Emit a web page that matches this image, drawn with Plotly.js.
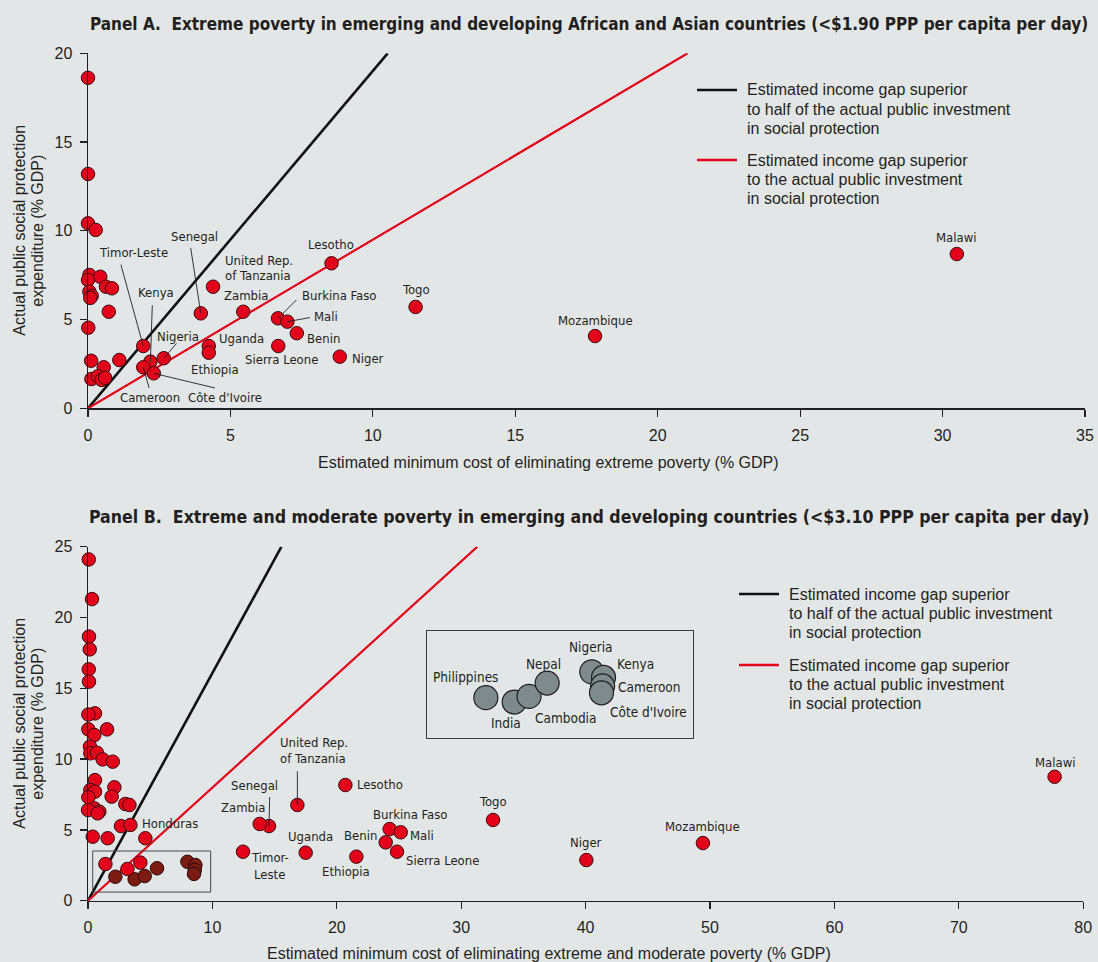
<!DOCTYPE html>
<html>
<head>
<meta charset="utf-8">
<script src="https://cdn.plot.ly/plotly-3.0.1.min.js"></script>
<style>
html,body{margin:0;padding:0;background:#e3e6e7;}
#chart{width:1098px;height:962px;}
</style>
</head>
<body>
<div id="chart"></div>
<script>
// ---------------- DATA ----------------
// Panel A: threshold lines
const lineA_half_x = [0, 10.52];
const lineA_half_y = [0, 20];
const lineA_full_x = [0, 21.05];
const lineA_full_y = [0, 20];

// Panel A: labelled countries
const aNames = ['Timor-Leste','Kenya','Nigeria','Cameroon',"Côte d'Ivoire",'Senegal','United Rep.<br>of Tanzania','Zambia','Uganda','Ethiopia','Lesotho','Burkina Faso','Mali','Benin','Sierra Leone','Niger','Togo','Mozambique','Malawi'];
const aX = [1.94, 2.19, 2.66, 1.94, 2.31, 3.96, 4.39, 5.45, 4.24, 4.24, 8.55, 6.67, 7.00, 7.33, 6.68, 8.84, 11.50, 17.80, 30.50];
const aY = [3.51, 2.63, 2.82, 2.31, 1.97, 5.35, 6.85, 5.44, 3.51, 3.13, 8.17, 5.07, 4.88, 4.23, 3.51, 2.91, 5.71, 4.07, 8.69];

// Panel A: unlabelled countries
const aOtherX = [0, 0, 0, 0.27, 0.05, 0.43, 0, 0.63, 0.84, 0.05, 0.13, 0.08, 0.73, 0.01, 0.11, 1.10, 0.55, 0.12, 0.35, 0.48, 0.60];
const aOtherY = [18.62, 13.20, 10.42, 10.05, 7.51, 7.41, 7.23, 6.85, 6.76, 6.57, 6.33, 6.22, 5.44, 4.54, 2.68, 2.72, 2.31, 1.65, 1.80, 1.60, 1.72];

// Panel B: threshold lines
const lineB_half_x = [0, 15.55];
const lineB_half_y = [0, 25];
const lineB_full_x = [0, 31.3];
const lineB_full_y = [0, 25];

// Panel B: labelled countries
const bNames = ['United Rep.<br>of Tanzania','Lesotho','Senegal','Zambia','Timor-<br>Leste','Uganda','Ethiopia','Burkina Faso','Benin','Mali','Sierra Leone','Togo','Niger','Mozambique','Malawi','Honduras'];
const bX = [16.83, 20.69, 14.55, 13.80, 12.46, 17.50, 21.57, 24.25, 23.93, 25.14, 24.84, 32.56, 40.06, 49.43, 77.70, 4.61];
const bY = [6.76, 8.17, 5.27, 5.42, 3.46, 3.39, 3.11, 5.06, 4.12, 4.83, 3.46, 5.70, 2.87, 4.07, 8.75, 4.41];

// Panel B: unlabelled countries
const bOtherX = [0.06, 0.32, 0.08, 0.14, 0.06, 0.08, 0.56, 0.03, 0.03, 1.53, 0.51, 0.16, 0.19, 0.72, 1.18, 1.99, 0.56, 0.19, 0.56, 2.12, 1.90, 0.03, 3.00, 3.33, 0.51, 0.91, 0.00, 0.78, 2.65, 3.41, 0.38, 1.58, 1.40, 3.17, 4.21];
const bOtherY = [24.10, 21.30, 18.65, 17.75, 16.34, 15.47, 13.23, 13.15, 12.10, 12.10, 11.70, 10.88, 10.41, 10.45, 9.98, 9.82, 8.52, 7.82, 7.70, 8.01, 7.35, 7.30, 6.83, 6.76, 6.52, 6.29, 6.40, 6.17, 5.27, 5.35, 4.52, 4.41, 2.59, 2.24, 2.69];

// Panel B: highlighted (zoomed) countries
const zNames = ['Philippines','India','Cambodia','Nepal','Nigeria','Kenya','Cameroon',"Côte d'Ivoire"];
const zX = [2.20, 3.75, 4.56, 5.55, 7.99, 8.63, 8.58, 8.52];
const zY = [1.69, 1.51, 1.74, 2.29, 2.75, 2.52, 2.17, 1.89];

// Texts
const titleA = 'Panel A.\u00a0 Extreme poverty in emerging and developing African and Asian countries (&lt;$1.90 PPP per capita per day)';
const titleB = 'Panel B.\u00a0 Extreme and moderate poverty in emerging and developing countries (&lt;$3.10 PPP per capita per day)';
const xTitleA = 'Estimated minimum cost of eliminating extreme poverty (% GDP)';
const xTitleB = 'Estimated minimum cost of eliminating extreme and moderate poverty (% GDP)';
const yTitleLines = ['Actual public social protection', 'expenditure (% GDP)'];
const legendHalf = ['Estimated income gap superior', 'to half of the actual public investment', 'in social protection'];
const legendFull = ['Estimated income gap superior', 'to the actual public investment', 'in social protection'];

// ---------------- STYLE / LAYOUT ----------------
const W = 1098, H = 962, ML = 88, MR = 13;
const PW = W - ML - MR;
const px2x = p => (p - ML) / PW;
const py2y = p => (H - p) / H;

const BG = '#e3e6e7';
const INK = '#231f20';
const RED = '#e3001b';
const DARKRED = '#7b1b12';
const GREY = '#7f8a8d';

const narrow = 'Liberation Sans Narrow, Arial Narrow, DejaVu Sans Condensed, sans-serif';
const regular = 'Liberation Sans, Arial, Helvetica, sans-serif';
const labelFont = {family: narrow, size: 13, color: INK};
const insetFont = {family: narrow, size: 13.5, color: INK};
const textFont = {family: regular, size: 16, color: INK};
const titleFontA = {family: narrow, size: 17, color: INK, weight: 700};
const titleFontB = {family: narrow, size: 17.6, color: INK, weight: 700};

const markerRed = {size: 13.5, color: RED, line: {color: '#3a1010', width: 1}};
const markerDark = {size: 13.5, color: DARKRED, line: {color: '#2a0a06', width: 1}};
const markerGrey = {size: 24, color: GREY, line: {color: '#1e1e1e', width: 1.2}};

function pts(x, y, xa, ya, marker) {
  return {type: 'scatter', mode: 'markers', x: x, y: y, xaxis: xa, yaxis: ya,
          marker: marker, cliponaxis: false, hoverinfo: 'skip', showlegend: false};
}
function ln(x, y, xa, ya, color, width) {
  return {type: 'scatter', mode: 'lines', x: x, y: y, xaxis: xa, yaxis: ya,
          line: {color: color, width: width}, cliponaxis: false, hoverinfo: 'skip', showlegend: false};
}

const traces = [
  ln(lineA_half_x, lineA_half_y, 'x', 'y', '#111', 2.6),
  ln(lineA_full_x, lineA_full_y, 'x', 'y', RED, 2.2),
  pts(aOtherX, aOtherY, 'x', 'y', markerRed),
  pts(aX, aY, 'x', 'y', markerRed),
  ln(lineB_half_x, lineB_half_y, 'x2', 'y2', '#111', 2.6),
  ln(lineB_full_x, lineB_full_y, 'x2', 'y2', RED, 2.2),
  pts(zX, zY, 'x2', 'y2', markerDark),
  pts(bOtherX, bOtherY, 'x2', 'y2', markerRed),
  pts(bX, bY, 'x2', 'y2', markerRed),
  pts(zX, zY, 'x3', 'y3', markerGrey)
];

// label placement (pixels relative to point): [dx, dy, anchor, leaderDx, leaderDy]
const aPos = {
  'Timor-Leste': [-10, -93.5, 'center', -22.9, -83.3],
  'Kenya': [5.3, -69, 'center', 2, -58.3],
  'Nigeria': [14.4, -22.2, 'center', 14.2, -16.5],
  'Cameroon': [7, 30.2, 'center', 6.4, 22.7],
  "Côte d'Ivoire": [71, 24.2, 'center', 62.6, 15],
  'Senegal': [-6.6, -77.3, 'center', -10.4, -67.3],
  'United Rep.<br>of Tanzania': [9.7, -18.7, 'left'],
  'Zambia': [2.5, -16.7, 'center'],
  'Uganda': [32.6, -8, 'center'],
  'Ethiopia': [6.4, 16.3, 'center'],
  'Lesotho': [-0.8, -18.3, 'center'],
  'Burkina Faso': [61.7, -23.3, 'center', 20, -20],
  'Mali': [38.3, -5.2, 'center', 24, -4.4],
  'Benin': [26.2, 4.8, 'center'],
  'Sierra Leone': [2.8, 13.7, 'center'],
  'Niger': [27.9, 1.4, 'center'],
  'Togo': [0, -17, 'center'],
  'Mozambique': [0.5, -16, 'center'],
  'Malawi': [-0.5, -17, 'center']
};
const bPos = {
  'United Rep.<br>of Tanzania': [-19.4, -54.2, 'left', 0, -35.7],
  'Lesotho': [35.1, -1, 'center'],
  'Senegal': [-14.3, -40.6, 'center', 0.7, -31.1],
  'Zambia': [-16.7, -16.5, 'center'],
  'Timor-<br>Leste': [26.7, 14.3, 'center'],
  'Uganda': [4.8, -16, 'center'],
  'Ethiopia': [-10.3, 15, 'center'],
  'Burkina Faso': [20.5, -14.6, 'center'],
  'Benin': [-25.2, -6.9, 'center'],
  'Mali': [21.5, 3.2, 'center'],
  'Sierra Leone': [45.2, 8.3, 'center'],
  'Togo': [0, -18.3, 'center'],
  'Niger': [0, -17.4, 'center'],
  'Mozambique': [0, -16.1, 'center'],
  'Malawi': [1, -14.8, 'center'],
  'Honduras': [24.4, -14.8, 'center']
};
const zPos = {
  'Philippines': [-20.5, -21],
  'India': [-8.4, 21.3],
  'Cambodia': [36.5, 21.9],
  'Nepal': [-3.9, -19],
  'Nigeria': [-1.3, -24.8],
  'Kenya': [31.5, -13.1],
  'Cameroon': [46.2, 1],
  "Côte d'Ivoire": [47.3, 18.9]
};

const annotations = [];
function addText(xref, yref, x, y, text, dx, dy, font, anchor, lh, angle) {
  const lines = text.split('<br>');
  const n = lines.length;
  lines.forEach((t, i) => {
    const off = dy + (i - (n - 1) / 2) * lh;
    const a = {xref: xref, yref: yref, x: x, y: y, text: t, showarrow: false,
      xanchor: anchor || 'center', yanchor: 'middle', xshift: dx, yshift: -off, font: font};
    if (angle !== undefined) a.textangle = angle;
    annotations.push(a);
  });
}
function addLeader(xref, yref, x, y, ldx, ldy) {
  annotations.push({xref: xref, yref: yref, x: x, y: y, text: ' ', font: {size: 1},
    showarrow: true, ax: ldx, ay: ldy, axref: 'pixel', ayref: 'pixel',
    arrowhead: 0, arrowwidth: 0.9, arrowcolor: INK, standoff: 0});
}
function labelSet(names, xs, ys, pos, xref, yref, font, lh) {
  names.forEach((nm, i) => {
    const p = pos[nm];
    if (!p) return;
    if (p.length > 3) addLeader(xref, yref, xs[i], ys[i], p[3], p[4]);
    addText(xref, yref, xs[i], ys[i], nm, p[0], p[1], font, p[2] || 'center', lh);
  });
}
labelSet(aNames, aX, aY, aPos, 'x', 'y', labelFont, 15);
labelSet(bNames, bX, bY, bPos, 'x2', 'y2', labelFont, 16.2);
labelSet(zNames, zX, zY, zPos, 'x3', 'y3', insetFont, 17);

// panel titles
addText('paper', 'paper', px2x(589), py2y(24), titleA, 0, 0, titleFontA, 'center', 20);
addText('paper', 'paper', px2x(589), py2y(517), titleB, 0, 0, titleFontB, 'center', 20);
// axis titles
addText('paper', 'paper', px2x(548.5), py2y(462), xTitleA, 0, 0, textFont, 'center', 19);
addText('paper', 'paper', px2x(548.5), py2y(953), xTitleB, 0, 0, textFont, 'center', 19);
[[230.7], [723.7]].forEach(c => {
  addText('paper', 'paper', px2x(20), py2y(c[0]), yTitleLines[0], 0, 0, textFont, 'center', 18, -90);
  addText('paper', 'paper', px2x(38), py2y(c[0]), yTitleLines[1], 0, 0, textFont, 'center', 18, -90);
});

// legends (key line + text)
const shapes = [];
function legendItem(x0, x1, yLine, xText, color, lines) {
  shapes.push({type: 'line', xref: 'paper', yref: 'paper', x0: px2x(x0), x1: px2x(x1),
    y0: py2y(yLine), y1: py2y(yLine), line: {color: color, width: 2.6}});
  lines.forEach((t, i) => {
    annotations.push({xref: 'paper', yref: 'paper', x: px2x(xText), y: py2y(yLine + i * 19.3),
      text: t, showarrow: false, xanchor: 'left', yanchor: 'middle', font: textFont});
  });
}
legendItem(697, 737, 90, 745, '#111', legendHalf);
legendItem(697, 737, 160, 745, RED, legendFull);
legendItem(739, 779, 594, 787, '#111', legendHalf);
legendItem(739, 779, 665, 787, RED, legendFull);

// small box around zoomed cluster in panel B
shapes.push({type: 'rect', xref: 'x2', yref: 'y2', x0: 0.38, x1: 9.86, y0: 0.61, y1: 3.51,
  line: {color: '#4a4a4a', width: 1}, fillcolor: 'rgba(0,0,0,0)'});

const axisBase = {
  showgrid: false, zeroline: false, showline: true, linecolor: INK, linewidth: 1.5,
  ticks: 'outside', ticklen: 7, tickwidth: 1.2, tickcolor: INK,
  tickfont: textFont, fixedrange: true, automargin: false
};

const layout = {
  width: W, height: H,
  margin: {l: ML, r: MR, t: 0, b: 0},
  paper_bgcolor: BG, plot_bgcolor: BG,
  showlegend: false,
  font: textFont,
  xaxis: Object.assign({}, axisBase, {domain: [0, 1], range: [0, 35], dtick: 5, tick0: 0, anchor: 'y', ticklabelstandoff: 5}),
  yaxis: Object.assign({}, axisBase, {domain: [py2y(408.3), py2y(53.3)], range: [0, 20], dtick: 5, tick0: 0, anchor: 'x', ticklabelstandoff: 4}),
  xaxis2: Object.assign({}, axisBase, {domain: [0, 995.2 / PW], range: [0, 80], dtick: 10, tick0: 0, anchor: 'y2', ticklabelstandoff: 5}),
  yaxis2: Object.assign({}, axisBase, {domain: [py2y(900.7), py2y(546.7)], range: [0, 25], dtick: 5, tick0: 0, anchor: 'x2', ticklabelstandoff: 4}),
  xaxis3: {domain: [px2x(427), px2x(693)], range: [-1.016, 13.52], anchor: 'y3',
    showgrid: false, zeroline: false, showline: true, mirror: true, linecolor: '#3a3a3a', linewidth: 1,
    ticks: '', showticklabels: false, fixedrange: true},
  yaxis3: {domain: [py2y(738), py2y(631)], range: [0.033, 4.427], anchor: 'x3',
    showgrid: false, zeroline: false, showline: true, mirror: true, linecolor: '#3a3a3a', linewidth: 1,
    ticks: '', showticklabels: false, fixedrange: true},
  annotations: annotations,
  shapes: shapes
};

Plotly.newPlot('chart', traces, layout, {displayModeBar: false, staticPlot: true});
</script>
</body>
</html>
